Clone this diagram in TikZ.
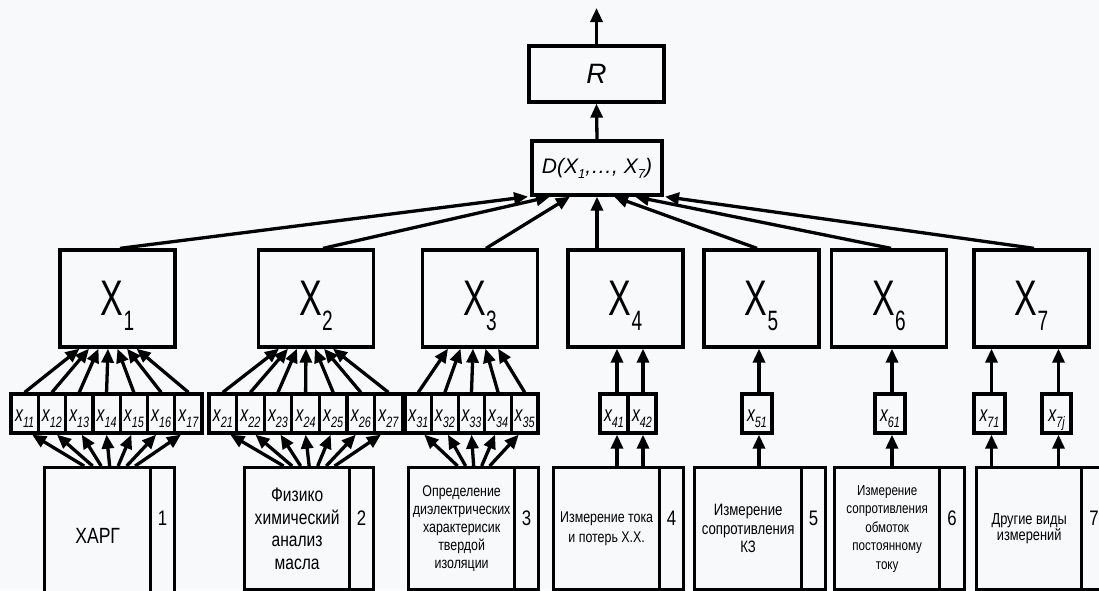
\documentclass[tikz,border=0pt]{standalone}
\usepackage{fontspec}
\setmainfont{Liberation Sans}
\newfontfamily\bigfam[FakeStretch=0.68]{Liberation Sans}
\newfontfamily\smallfam[FakeStretch=0.72]{Liberation Sans}
\newfontfamily\txtfam[FakeStretch=0.8]{Liberation Sans}
\usetikzlibrary{arrows.meta}
\definecolor{bg}{RGB}{248,249,250}
\newcommand\XL[1]{{\fontsize{50}{50}\selectfont X}\raisebox{-15pt}{\fontsize{28}{28}\selectfont #1}}
\newcommand\xl[1]{{\fontsize{22}{22}\selectfont x}\raisebox{-6pt}{\fontsize{15}{15}\selectfont #1}}
\newcommand\subs[1]{\raisebox{-5pt}{\fontsize{13}{13}\selectfont #1}}
\begin{document}
\begin{tikzpicture}[x=1pt,y=-1pt,
 box/.style={draw, line width=3.3pt, rectangle, inner sep=0pt, fill=bg, align=center},
 arr/.style={line width=3.3pt, -{Triangle[length=14pt,width=12pt]}},
 bigbox/.style={box, minimum width=115pt, minimum height=97pt, font=\bigfam, text height=35pt, text depth=2pt},
 sbox/.style={box, minimum height=39pt, font=\smallfam\itshape, text height=15pt, text depth=0pt},
 mbox/.style={box, anchor=north west, minimum height=122pt},
 nbox/.style={box, anchor=north west, minimum width=24pt, minimum height=122pt, font=\txtfam\fontsize{21}{21}\selectfont, text height=15pt, text depth=21pt},
]
\useasboundingbox (0,0) rectangle (1099,590);
\fill[bg] (0,0) rectangle (1099,590);
\clip (0,0) rectangle (1099,590);

% top
\node[box, minimum width=135pt, minimum height=56pt, font=\itshape\fontsize{28}{28}\selectfont] (R) at (596.5,74) {R};
\node[box, minimum width=130pt, minimum height=54pt, font=\itshape\fontsize{21}{21}\selectfont] (D) at (597,168) {D(X\subs{1},…, X\subs{7})};
\coordinate (out) at (596.5,8);

% X boxes
\node[bigbox] (X1) at (117.5,298.5) {\XL1};
\node[bigbox] (X2) at (316,298.5) {\XL2};
\node[bigbox] (X3) at (480,298.5) {\XL3};
\node[bigbox] (X4) at (625.5,298.5) {\XL4};
\node[bigbox] (X5) at (761.5,298.5) {\XL5};
\node[bigbox] (X6) at (889,298.5) {\XL6};
\node[bigbox] (X7) at (1031.5,298.5) {\XL7};

% small boxes
\foreach \k in {1,...,7} \node[sbox, minimum width=27.3pt] (x1\k) at ({11+27.3*(\k-0.5)},413.5) {\xl{1\k}};
\foreach \k in {1,...,7} \node[sbox, minimum width=27.6pt] (x2\k) at ({209+27.6*(\k-0.5)},413.5) {\xl{2\k}};
\foreach \k in {1,...,5} \node[sbox, minimum width=26.6pt] (x3\k) at ({405+26.6*(\k-0.5)},413.5) {\xl{3\k}};
\node[sbox, minimum width=28pt] (x41) at (614,413.5) {\xl{41}};
\node[sbox, minimum width=28pt] (x42) at (642,413.5) {\xl{42}};
\node[sbox, minimum width=30pt] (x51) at (757,413.5) {\xl{51}};
\node[sbox, minimum width=30pt] (x61) at (890,413.5) {\xl{61}};
\node[sbox, minimum width=31pt] (x71) at (989.5,413.5) {\xl{71}};
\node[sbox, minimum width=29pt] (x7j) at (1056.5,413.5) {\xl{7j}};

% bottom boxes
\node[mbox, minimum width=106pt, minimum height=136pt, font=\txtfam\fontsize{22}{22}\selectfont] (b1) at (43,466) {ХАРГ};
\node[nbox, minimum height=136pt, text depth=35pt] (n1) at (149,466) {1};
\node[mbox, minimum width=105pt, font=\txtfam\fontsize{19.5}{22.5}\selectfont] (b2) at (243,466) {Физико\\химический\\анализ\\масла};
\node[nbox] (n2) at (348,466) {2};
\node[mbox, minimum width=106pt, font=\txtfam\fontsize{15.5}{18}\selectfont] (b3) at (407,466) {Определение\\диэлектрических\\характерисик\\твердой\\изоляции};
\node[nbox] (n3) at (513,466) {3};
\node[mbox, minimum width=106pt, font=\txtfam\fontsize{15.5}{20}\selectfont] (b4) at (552,466) {Измерение тока\\и потерь Х.Х.};
\node[nbox] (n4) at (658,466) {4};
\node[mbox, minimum width=107pt, font=\txtfam\fontsize{16.5}{18.5}\selectfont] (b5) at (693,466) {Измерение\\сопротивления\\КЗ};
\node[nbox] (n5) at (800,466) {5};
\node[mbox, minimum width=105pt, font=\txtfam\fontsize{14.5}{18.5}\selectfont] (b6) at (833,466) {Измерение\\сопротивления\\обмоток\\постоянному\\току};
\node[nbox, minimum width=25pt] (n6) at (938,466) {6};
\node[mbox, minimum width=105pt, font=\txtfam\fontsize{16}{16.5}\selectfont] (b7) at (975,466) {Другие виды\\измерений};
\node[nbox, minimum width=25pt] (n7) at (1080,466) {7};

% top connectors
\draw[arr] (R.north) -- (out);
\draw[arr] (D.north) -- (R.south);
\draw[arr] ([xshift=2.5pt]X1.north) -- ([xshift=-69pt]D.south);
\draw[arr] ([xshift=7pt]X2.north) -- ([xshift=-47pt]D.south);
\draw[arr] ([xshift=6pt]X3.north) -- ([xshift=-27pt]D.south);
\draw[arr] (X4.north -| D.south) -- (D.south);
\draw[arr] ([xshift=-4.5pt]X5.north) -- ([xshift=17pt]D.south);
\draw[arr] ([xshift=2pt]X6.north) -- ([xshift=38pt]D.south);
\draw[arr] ([xshift=2.5pt]X7.north) -- ([xshift=68pt]D.south);

% group 1
\foreach \k in {1,...,7} {
  \draw[arr] (x1\k.north) -- ([xshift={(\k-5)*9.5pt}]X1.south);
  \draw[arr] ([xshift={12pt+(\k-4)*8.5pt}]b1.north) -- ([xshift={(4-\k)*2.5pt}]x1\k.south);
}
% group 2
\foreach \k in {1,...,7} {
  \draw[arr] (x2\k.north) -- ([xshift={-10pt+(\k-4)*9pt}]X2.south);
  \draw[arr] ([xshift={12pt+(\k-4)*8.5pt}]b2.north) -- ([xshift={(4-\k)*2.5pt}]x2\k.south);
}
% group 3
\foreach \k in {1,...,5} {
  \draw[arr] (x3\k.north) -- ([xshift={-7pt+(\k-3)*12.5pt}]X3.south);
  \draw[arr] ([xshift={12pt+(\k-3)*8pt}]b3.north) -- ([xshift={(3-\k)*3pt}]x3\k.south);
}
% group 4
\foreach \n/\s in {41/3,42/1} {
  \draw[arr] ([xshift=\s pt]x\n.north) -- ([xshift=\s pt]x\n.north |- X4.south);
  \draw[arr] ([xshift=\s pt]x\n.south |- b4.north) -- ([xshift=\s pt]x\n.south);
}
% groups 5-7
\draw[arr] ([xshift=2pt]x51.north) -- ([xshift=2pt]x51.north |- X5.south);
\draw[arr] ([xshift=2pt]x51.south |- b5.north) -- ([xshift=2pt]x51.south);
\draw[arr] ([xshift=2pt]x61.north) -- ([xshift=2pt]x61.north |- X6.south);
\draw[arr] ([xshift=2pt]x61.south |- b6.north) -- ([xshift=2pt]x61.south);
\draw[arr] ([xshift=2pt]x71.north) -- ([xshift=2pt]x71.north |- X7.south);
\draw[arr] ([xshift=2pt]x71.south |- b7.north) -- ([xshift=2pt]x71.south);
\draw[arr] ([xshift=2pt]x7j.north) -- ([xshift=2pt]x7j.north |- X7.south);
\draw[arr] ([xshift=2pt]x7j.south |- b7.north) -- ([xshift=2pt]x7j.south);
\end{tikzpicture}
\end{document}
